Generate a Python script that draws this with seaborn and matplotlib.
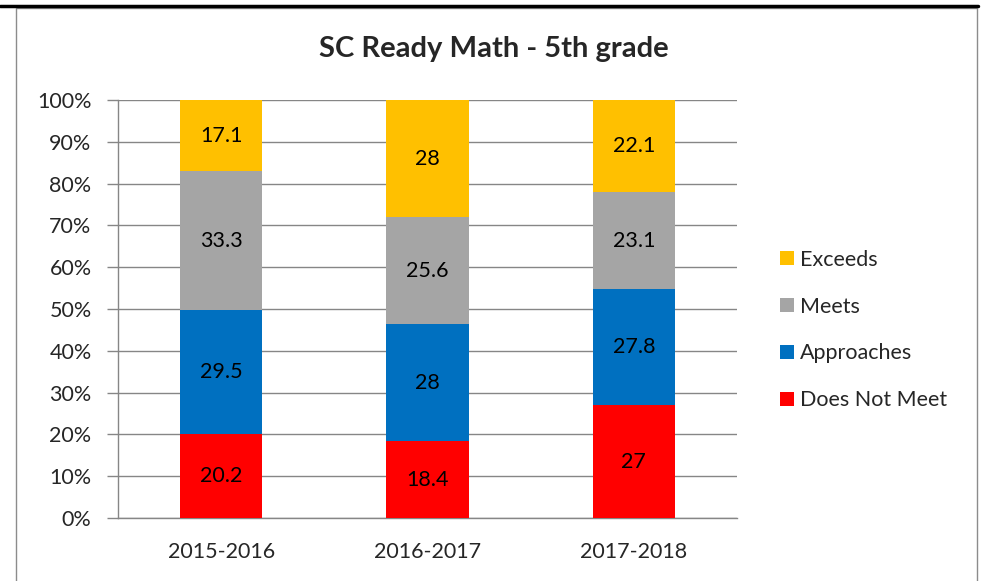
import pandas as pd
import seaborn as sns
import matplotlib.pyplot as plt
import numpy as np
from matplotlib.patches import Rectangle, Patch
from matplotlib.lines import Line2D

# Data
years = ["2015-2016", "2016-2017", "2017-2018"]
levels = ["Does Not Meet", "Approaches", "Meets", "Exceeds"]
does_not_meet = [20.2, 18.4, 27]
approaches = [29.5, 28, 27.8]
meets = [33.3, 25.6, 23.1]
exceeds = [17.1, 28, 22.1]
colors = {"Does Not Meet": "#FF0000", "Approaches": "#0070C0",
          "Meets": "#A5A5A5", "Exceeds": "#FFC000"}

df = pd.DataFrame({"Year": years, "Does Not Meet": does_not_meet,
                   "Approaches": approaches, "Meets": meets, "Exceeds": exceeds})
# 100% stacked: normalise each year to its total
vals = df[levels]
pct = vals.div(vals.sum(axis=1), axis=0) * 100
cum = pct.cumsum(axis=1)

sns.set_style("white")
plt.rcParams['font.family'] = ['Lato', 'DejaVu Sans']

fig = plt.figure(figsize=(9.82, 5.81), dpi=100)
ax = fig.add_axes([118 / 982, 1 - 518 / 581, (737 - 118) / 982, (518 - 100) / 581])

grid_col = "#868686"
fs = 15.5
ax.set_axisbelow(True)
ax.yaxis.grid(True, color=grid_col, linewidth=1)

# draw the layers from the top of the stack down so each one overlays the last
for lvl in reversed(levels):
    sns.barplot(x=df["Year"], y=cum[lvl], color=colors[lvl], width=0.4,
                saturation=1, linewidth=0, ax=ax, zorder=3)

# labels centred in each segment
for i in range(len(years)):
    for lvl in levels:
        mid = cum[lvl].iloc[i] - pct[lvl].iloc[i] / 2
        ax.text(i, mid, f"{df[lvl].iloc[i]:g}", ha="center", va="center",
                fontsize=fs, color="black", zorder=4)

ax.set_xlim(-0.5, 2.5)
ax.set_ylim(0, 100)
ax.set_yticks(np.arange(0, 101, 10))
ax.set_yticklabels([f"{v}%" for v in range(0, 101, 10)], fontsize=fs)
ax.set_xlabel("")
ax.set_ylabel("")
ax.tick_params(axis="x", which="major", length=0, pad=17, labelsize=fs)
ax.set_xticks([-0.5, 0.5, 1.5, 2.5], minor=True)
ax.tick_params(axis="x", which="minor", length=8, color=grid_col, width=1)
ax.tick_params(axis="y", length=8, color=grid_col, width=1, pad=11, left=True)
for side in ["top", "right"]:
    ax.spines[side].set_visible(False)
for side in ["left", "bottom"]:
    ax.spines[side].set_color(grid_col)
    ax.spines[side].set_linewidth(1)

fig.text(494 / 982, 1 - 49 / 581, "SC Ready Math - 5th grade", ha="center",
         va="center", fontsize=21, fontweight="bold")

handles = [Patch(facecolor=colors[l], edgecolor="none") for l in reversed(levels)]
fig.legend(handles, list(reversed(levels)), loc="upper left",
           bbox_to_anchor=(771 / 982, 1 - 241 / 581), frameon=False,
           fontsize=fs, handlelength=0.65, handleheight=0.65,
           handletextpad=0.3, labelspacing=1.25, borderaxespad=0)

# chart border and the heavy line across the top
fig.patches.append(Rectangle((16 / 982, -0.05), (977 - 16) / 982, 1.05 - 8 / 581,
                             transform=fig.transFigure, fill=False,
                             edgecolor="#8C8C8C", linewidth=1))
fig.lines.append(Line2D([0, 978 / 982], [1 - 6 / 581, 1 - 6 / 581],
                        transform=fig.transFigure, color="black", linewidth=2.5))

fig.savefig("out.png", dpi=100)
